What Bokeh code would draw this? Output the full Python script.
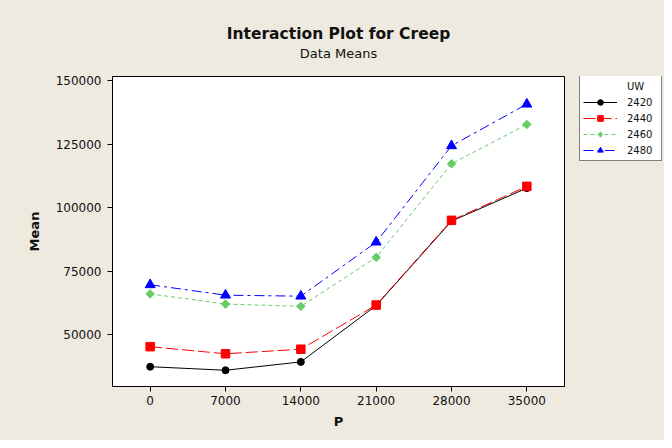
import math
from bokeh.plotting import figure
from bokeh.layouts import row
from bokeh.models import (Legend, LegendItem, FixedTicker, Range1d, BasicTickFormatter,
                          LinearAxis)
from bokeh.embed import file_html
from bokeh.resources import INLINE

# Data
P = [0, 7000, 14000, 21000, 28000, 35000]
uw_labels = ["2420", "2440", "2460", "2480"]
uw_2420 = [37300, 35900, 39200, 61400, 94700, 107700]
uw_2440 = [45200, 42400, 44200, 61600, 95000, 108400]
uw_2460 = [66000, 62000, 61100, 80400, 117300, 132800]
uw_2480 = [69600, 65500, 65100, 86400, 124400, 140800]
y_ticks = [50000, 75000, 100000, 125000, 150000]

BG = "#EEEAE0"
FONT = "DejaVu Sans"

p = figure(width=565, height=440, output_backend="svg", toolbar_location=None,
           x_range=Range1d(-3500, 38500), y_range=Range1d(29500, 151700),
           min_border_left=112, min_border_right=1, min_border_top=76, min_border_bottom=54,
           background_fill_color="white", border_fill_color=BG,
           outline_line_color="black", outline_line_width=1)

xa = p.below[0]
ya = p.left[0]

p.title.text = "Interaction Plot for Creep"
p.title.align = "center"
p.title.text_font = FONT
p.title.text_font_size = "15.5px"
p.title.text_font_style = "bold"
p.title.text_color = "#111111"
p.title.standoff = 0

# subtitle drawn as the label of a bare axis above the frame
sub = LinearAxis(ticker=FixedTicker(ticks=[]), axis_label="Data Means",
                 axis_line_color=None, major_tick_line_color=None, minor_tick_line_color=None,
                 major_tick_out=0, major_tick_in=0, major_label_standoff=0,
                 axis_label_standoff=16, axis_label_text_font=FONT,
                 axis_label_text_font_size="13px", axis_label_text_font_style="normal",
                 axis_label_text_color="#111111")
p.add_layout(sub, "above")

p.xgrid.visible = False
p.ygrid.visible = False

for ax in (xa, ya):
    ax.major_label_text_font = FONT
    ax.major_label_text_font_size = "12px"
    ax.major_label_text_color = "#111111"
    ax.axis_label_text_font = FONT
    ax.axis_label_text_font_size = "13px"
    ax.axis_label_text_font_style = "bold"
    ax.axis_label_text_color = "#111111"
    ax.minor_tick_line_color = None
    ax.major_tick_in = 0
    ax.major_tick_out = 5
    ax.axis_line_color = "black"
    ax.major_tick_line_color = "black"

xa.ticker = FixedTicker(ticks=P)
xa.axis_label = "P"
xa.major_label_standoff = 4
xa.axis_label_standoff = 6
ya.ticker = FixedTicker(ticks=y_ticks)
ya.formatter = BasicTickFormatter(use_scientific=False)
ya.axis_label = "Mean"
ya.major_label_standoff = 6
ya.axis_label_standoff = 11

# values, colour, dash, plot marker, plot size, plot angle, legend marker, legend size
series = [
    (uw_2420, "black", None, "circle", 7, 0.0, "circle", 7),
    (uw_2440, "red", "12 4", "square", 8.5, 0.0, "square", 8.5),
    (uw_2460, "#66CC66", "4 3", "square", 6, math.pi / 4, "diamond", 12),
    (uw_2480, "blue", "10 4 3 4", "triangle", 10, 0.0, "triangle", 10),
]

# legend panel (separate canvas to the right of the frame; its frame aligns with p's frame)
lg = figure(width=99, height=440, output_backend="svg", toolbar_location=None,
            x_range=Range1d(-1, 0), y_range=Range1d(-1, 0),
            x_axis_type=None, y_axis_type=None,
            min_border_left=0, min_border_right=0, min_border_top=0, min_border_bottom=0,
            background_fill_color=BG, border_fill_color=BG, outline_line_color=None)

items = [LegendItem(label="UW", renderers=[])]
for (vals, color, dash, marker, size, ang, lmarker, lsize), lab in zip(series, uw_labels):
    kw = {}
    if dash:
        kw["line_dash"] = dash
    p.line(P, vals, line_color=color, line_width=1, **kw)
    p.scatter(P, vals, marker=marker, size=size, angle=ang, fill_color=color, line_color=color)
    # same series on the legend canvas (outside its visible range) so the legend has glyphs
    ln = lg.line(P, vals, line_color=color, line_width=1, **kw)
    sc = lg.scatter(P, vals, marker=lmarker, size=lsize, fill_color=color, line_color=color)
    items.append(LegendItem(label=lab, renderers=[ln, sc]))

legend = Legend(items=items, location=(14, 225), orientation="vertical",
                label_text_font=FONT, label_text_font_size="10px", label_text_color="#111111",
                glyph_width=34, glyph_height=14, label_height=14, label_width=31,
                label_standoff=10, spacing=2, padding=3, margin=0,
                border_line_color="black", border_line_width=1,
                background_fill_color="white", background_fill_alpha=1)
lg.add_layout(legend, "center")

layout = row(p, lg, spacing=0, styles={"background-color": BG})
open("out.html", "w").write(file_html(layout, INLINE))
